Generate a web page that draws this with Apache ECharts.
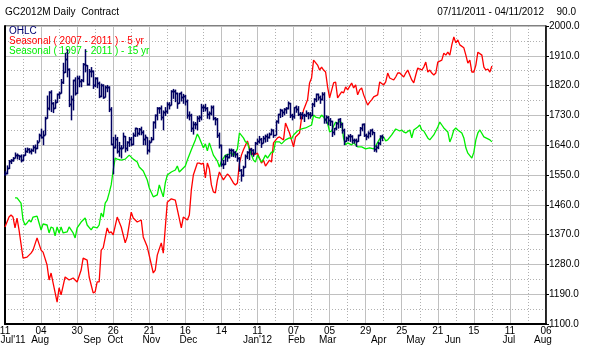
<!DOCTYPE html>
<html><head><meta charset="utf-8">
<script src="https://cdn.jsdelivr.net/npm/echarts@6/dist/echarts.min.js"></script>
<style>html,body{margin:0;padding:0;background:#fff}#c{width:595px;height:355px}</style>
</head><body><div id="c"></div>
<script>
// x axis: trading-day index (0 = 11 Jul 2011), ticks every 18 bars
const dayTickLabels = ["11","04","30","26","21","16","14","11","07","05","29","25","21","15","11","06"];
const monthNames = ["Jul'11","Aug","Sep","Oct","Nov","Dec","Jan'12","Feb","Mar","Apr","May","Jun","Jul","Aug"];
const monthIdx = [4, 17.5, 43.5, 55, 73, 91.5, 126, 145.5, 161, 186.5, 205, 223.5, 251.5, 268.5];

// OHLC of GC2012M, one value per bar (index 0..188)
const ohlcOpen = [
1552,1556,1571,1593,1596,1602,1611,1609,1607,1594,
1609,1622,1628,1622,1624,1636,1631,1651,1672,1666,
1671,1721,1751,1802,1766,1752,1771,1794,1798,1830,
1860,1899,1870,1765,1781,1836,1798,1843,1833,1836,
1884,1881,1825,1865,1864,1822,1842,1829,1788,1822,
1786,1815,1816,1749,1645,1636,1660,1622,1632,1632,
1667,1631,1650,1659,1643,1670,1691,1676,1690,1681,
1659,1664,1624,1651,1660,1711,1731,1752,1752,1724,
1741,1744,1765,1762,1804,1803,1798,1766,1797,1787,
1790,1773,1732,1732,1692,1703,1705,1722,1725,1755,
1754,1753,1733,1738,1754,1721,1720,1671,1641,1583,
1583,1606,1603,1626,1624,1619,1614,1602,1564,1550,
1574,1608,1620,1629,1625,1617,1647,1654,1658,1647,
1663,1668,1666,1675,1685,1672,1714,1734,1746,1740,
1748,1753,1766,1732,1728,1754,1748,1735,1733,1730,
1732,1738,1735,1731,1765,1780,1794,1786,1780,1796,
1720,1724,1717,1713,1680,1691,1707,1720,1705,1685,
1654,1662,1668,1668,1656,1657,1654,1670,1693,1704,
1670,1667,1677,1686,1679,1629,1636,1648,1669];
const ohlcHigh = [
1562,1579,1595,1598,1604,1618,1615,1610,1612,1612,
1632,1633,1631,1630,1640,1642,1655,1675,1690,1684,
1726,1790,1803,1806,1770,1778,1796,1802,1840,1889,
1919,1930,1872,1790,1838,1845,1850,1850,1840,1888,
1930,1882,1870,1876,1866,1845,1845,1832,1826,1824,
1820,1822,1818,1755,1665,1672,1665,1650,1640,1678,
1668,1652,1665,1665,1678,1693,1692,1692,1696,1685,
1672,1664,1655,1665,1712,1733,1755,1755,1760,1745,
1755,1770,1770,1806,1810,1808,1799,1798,1802,1795,
1792,1778,1742,1735,1712,1710,1728,1730,1765,1762,
1765,1755,1742,1760,1760,1725,1722,1678,1642,1596,
1610,1614,1630,1630,1628,1622,1617,1604,1568,1578,
1612,1622,1630,1632,1628,1650,1660,1668,1662,1668,
1672,1675,1678,1690,1688,1715,1735,1750,1748,1752,
1755,1772,1768,1735,1755,1760,1758,1740,1740,1735,
1745,1740,1740,1768,1782,1796,1796,1790,1800,1800,
1730,1728,1722,1714,1692,1710,1720,1722,1708,1690,
1666,1672,1674,1670,1660,1660,1672,1695,1705,1706,
1675,1682,1688,1690,1680,1640,1650,1670,1672];
const ohlcLow = [
1548,1552,1568,1583,1590,1600,1597,1595,1588,1592,
1608,1617,1615,1612,1620,1615,1628,1650,1660,1640,
1670,1720,1745,1740,1737,1750,1768,1780,1796,1825,
1858,1845,1755,1715,1745,1790,1795,1815,1815,1830,
1860,1820,1820,1845,1810,1815,1812,1782,1785,1780,
1784,1800,1740,1640,1552,1630,1615,1605,1600,1630,
1618,1622,1635,1638,1640,1665,1666,1670,1670,1640,
1640,1612,1618,1648,1655,1690,1715,1735,1715,1685,
1728,1735,1748,1760,1780,1770,1750,1765,1772,1765,
1760,1720,1715,1680,1672,1688,1685,1710,1715,1740,
1742,1720,1718,1730,1715,1700,1662,1630,1575,1568,
1580,1590,1600,1605,1604,1602,1590,1560,1530,1545,
1572,1598,1595,1610,1605,1615,1640,1645,1632,1645,
1648,1650,1660,1670,1662,1670,1705,1722,1725,1730,
1735,1748,1722,1715,1720,1738,1728,1718,1718,1710,
1725,1718,1720,1728,1755,1770,1775,1765,1775,1705,
1705,1700,1698,1665,1670,1685,1690,1692,1675,1640,
1650,1652,1650,1645,1645,1635,1650,1668,1682,1665,
1655,1660,1664,1670,1620,1618,1628,1640,1652];
const ohlcClose = [
1556,1571,1593,1596,1602,1611,1609,1607,1594,1609,
1622,1628,1622,1624,1636,1631,1651,1672,1666,1671,
1721,1751,1802,1766,1752,1771,1794,1798,1830,1860,
1899,1870,1765,1781,1836,1798,1843,1833,1836,1884,
1881,1825,1865,1864,1822,1842,1829,1788,1822,1786,
1815,1816,1749,1645,1636,1660,1622,1632,1632,1667,
1631,1650,1659,1643,1670,1691,1676,1690,1681,1659,
1664,1624,1651,1660,1711,1731,1752,1752,1724,1741,
1744,1765,1762,1804,1803,1798,1766,1797,1787,1790,
1773,1732,1732,1692,1703,1705,1722,1725,1755,1754,
1753,1733,1738,1754,1721,1720,1671,1641,1583,1583,
1606,1603,1626,1624,1619,1614,1602,1564,1550,1574,
1608,1620,1629,1625,1617,1647,1654,1658,1647,1663,
1668,1666,1675,1685,1672,1714,1734,1746,1740,1748,
1753,1766,1732,1728,1754,1748,1735,1733,1730,1732,
1738,1735,1731,1765,1780,1794,1786,1780,1796,1720,
1724,1717,1713,1680,1691,1707,1720,1705,1685,1654,
1662,1668,1668,1656,1657,1654,1670,1693,1704,1670,
1667,1677,1686,1679,1629,1636,1648,1669,1665];

// Seasonal ( 2007 - 2011 ) - 5 yr : [bar index, value]
const seasonal5yr = [[0,1393],[2,1423],[3,1429],[4,1423],[5,1390],[6,1420],[7,1384],[9,1299],[11,1302],[13,1314],[14,1323],[16,1360],[18,1323],[19,1317],[21,1278],[22,1233],[23,1254],[24,1224],[26,1166],[27,1209],[28,1188],[30,1242],[32,1233],[34,1239],[36,1227],[38,1263],[39,1299],[41,1293],[42,1242],[44,1194],[45,1197],[46,1227],[47,1227],[48,1323],[49,1330],[51,1390],[52,1375],[53,1378],[54,1369],[56,1423],[58,1393],[60,1345],[61,1363],[63,1438],[64,1420],[66,1408],[68,1414],[69,1363],[71,1333],[74,1254],[75,1263],[76,1308],[78,1345],[79,1314],[81,1468],[83,1478],[85,1474],[88,1390],[89,1423],[91,1414],[92,1429],[93,1505],[94,1550],[96,1586],[97,1586],[98,1583],[99,1586],[100,1541],[101,1586],[102,1568],[103,1520],[104,1499],[105,1496],[106,1535],[107,1559],[109,1535],[110,1544],[111,1553],[112,1547],[114,1526],[115,1520],[116,1526],[117,1586],[118,1610],[119,1626],[121,1653],[122,1632],[123,1619],[124,1610],[126,1616],[128,1586],[129,1595],[130,1577],[132,1595],[133,1589],[134,1647],[136,1662],[137,1665],[139,1656],[140,1707],[142,1677],[144,1635],[145,1665],[147,1677],[148,1722],[149,1746],[151,1777],[152,1828],[153,1843],[154,1897],[156,1882],[157,1867],[158,1876],[159,1867],[160,1861],[161,1816],[162,1783],[164,1828],[165,1831],[166,1783],[168,1801],[169,1798],[170,1816],[171,1807],[173,1828],[174,1813],[175,1822],[176,1792],[177,1807],[178,1813],[179,1792],[181,1761],[182,1770],[183,1777],[184,1786],[186,1792],[187,1831],[189,1822],[190,1831],[191,1858],[192,1843],[194,1837],[195,1846],[196,1858],[197,1858],[199,1846],[200,1858],[201,1867],[203,1837],[204,1828],[205,1852],[206,1873],[208,1867],[209,1876],[210,1891],[211,1861],[212,1867],[213,1858],[214,1852],[215,1858],[216,1891],[218,1897],[219,1918],[220,1912],[221,1921],[222,1912],[223,1943],[224,1967],[225,1949],[226,1958],[227,1943],[229,1934],[230,1912],[231,1888],[232,1897],[233,1861],[234,1861],[235,1882],[236,1921],[238,1912],[239,1876],[240,1867],[241,1870],[242,1861],[243,1879]];

// Seasonal ( 1997 - 2011 ) - 15 yr : [bar index, value]
const seasonal15yr = [[5,1481],[6,1481],[8,1465],[9,1414],[10,1399],[11,1405],[12,1414],[13,1408],[14,1423],[16,1426],[17,1405],[18,1384],[19,1402],[21,1399],[22,1375],[23,1393],[24,1390],[25,1366],[26,1393],[27,1375],[28,1393],[29,1375],[31,1378],[32,1393],[34,1375],[35,1360],[36,1390],[38,1408],[40,1420],[41,1399],[43,1384],[44,1393],[46,1390],[47,1399],[48,1435],[49,1423],[50,1465],[51,1474],[52,1496],[53,1520],[54,1565],[55,1601],[56,1598],[58,1595],[60,1598],[62,1610],[64,1598],[66,1589],[67,1574],[69,1562],[71,1535],[72,1511],[74,1484],[76,1490],[77,1520],[79,1484],[80,1526],[81,1550],[83,1559],[85,1565],[86,1577],[87,1559],[89,1571],[90,1577],[91,1595],[93,1626],[95,1656],[96,1674],[97,1662],[99,1632],[100,1644],[101,1623],[102,1647],[104,1610],[106,1592],[107,1574],[108,1592],[110,1610],[112,1613],[113,1619],[114,1607],[116,1629],[117,1677],[119,1662],[120,1650],[121,1647],[122,1626],[124,1595],[125,1589],[126,1610],[128,1589],[129,1598],[130,1610],[131,1601],[133,1619],[134,1619],[135,1650],[137,1650],[138,1644],[140,1656],[142,1662],[143,1659],[144,1671],[145,1677],[146,1683],[148,1689],[150,1692],[151,1695],[153,1701],[154,1731],[155,1725],[157,1722],[158,1731],[159,1725],[161,1707],[162,1680],[163,1683],[164,1698],[165,1710],[166,1704],[167,1713],[168,1707],[169,1659],[170,1641],[171,1647],[173,1641],[174,1647],[176,1635],[178,1635],[180,1629],[182,1632],[184,1629],[185,1638],[187,1659],[189,1665],[190,1653],[191,1656],[193,1671],[194,1680],[195,1689],[197,1683],[198,1686],[199,1680],[200,1677],[202,1686],[203,1662],[204,1686],[206,1695],[207,1701],[208,1686],[209,1683],[211,1662],[212,1656],[214,1671],[216,1695],[217,1710],[218,1701],[219,1692],[221,1680],[222,1650],[223,1665],[224,1686],[225,1692],[226,1686],[228,1677],[229,1662],[230,1632],[231,1616],[233,1601],[234,1619],[235,1656],[236,1677],[237,1686],[239,1665],[240,1662],[242,1656],[243,1650]];

const FONT = "'Liberation Sans', Arial, sans-serif";
const ohlcData = ohlcClose.map((c, i) => [i, ohlcOpen[i], ohlcHigh[i], ohlcLow[i], c]);

const chart = echarts.init(document.getElementById('c'), null, {renderer: 'canvas'});
chart.setOption({
  animation: false,
  backgroundColor: '#fff',
  textStyle: {fontFamily: FONT},
  title: [
    {text: 'GC2012M Daily  Contract', left: 5, top: 7, padding: 0,
     textStyle: {fontSize: 10, fontWeight: 'normal', color: '#000', fontFamily: FONT}},
    {text: '07/11/2011 - 04/11/2012', right: 51, top: 7, padding: 0,
     textStyle: {fontSize: 10, fontWeight: 'normal', color: '#000', fontFamily: FONT}},
    {text: '90.0', right: 19, top: 7, padding: 0,
     textStyle: {fontSize: 10, fontWeight: 'normal', color: '#000', fontFamily: FONT}}
  ],
  legend: {
    orient: 'vertical', left: 4, top: 26, padding: 0, itemGap: 0,
    itemWidth: 0, itemHeight: 0, icon: 'rect', selectedMode: false,
    textStyle: {fontSize: 10, lineHeight: 9, fontFamily: FONT},
    data: [
      {name: 'OHLC', textStyle: {color: '#000070'}},
      {name: 'Seasonal ( 2007 - 2011 ) - 5 yr', textStyle: {color: '#ff0000'}},
      {name: 'Seasonal ( 1997 - 2011 ) - 15 yr', textStyle: {color: '#00ee00'}}
    ]
  },
  grid: {left: 5, right: 49, top: 26, bottom: 31, show: true, borderColor: '#000', borderWidth: 1,
         containLabel: false, outerBoundsMode: 'none'},
  xAxis: [
    {type: 'value', min: 0, max: 270, interval: 18, position: 'bottom',
     axisLine: {show: true, onZero: false, lineStyle: {color: '#000', width: 2}},
     axisTick: {show: false},
     axisLabel: {margin: 2, fontSize: 10, color: '#000', fontFamily: FONT,
       showMinLabel: true, showMaxLabel: true, hideOverlap: false,
       formatter: v => dayTickLabels[Math.round(v / 18)] || ''},
     splitLine: {show: true, lineStyle: {color: '#c0c0c0', width: 1}},
     minorTick: {show: false, splitNumber: 2},
     minorSplitLine: {show: true, lineStyle: {color: '#b0b0b0', width: 1, type: [1, 2]}}},
    {type: 'value', min: 0, max: 270, position: 'bottom',
     axisLine: {show: false}, axisTick: {show: false}, splitLine: {show: false},
     axisLabel: {margin: 11, fontSize: 10, color: '#000', fontFamily: FONT, hideOverlap: false,
       customValues: monthIdx,
       formatter: v => { const k = monthIdx.indexOf(v); return k >= 0 ? monthNames[k] : ''; }}}
  ],
  yAxis: [
    {type: 'value', position: 'right', min: 1100, max: 2000, interval: 90,
     axisLine: {show: true, onZero: false, lineStyle: {color: '#000', width: 1.5}},
     axisTick: {show: true, length: 3, lineStyle: {color: '#000'}},
     axisLabel: {margin: 3, fontSize: 10, color: '#000', fontFamily: FONT,
       showMinLabel: true, showMaxLabel: true, formatter: v => v.toFixed(1)},
     splitLine: {show: true, lineStyle: {color: '#c0c0c0', width: 1}},
     minorTick: {show: false, splitNumber: 2},
     minorSplitLine: {show: true, lineStyle: {color: '#b0b0b0', width: 1, type: [1, 2]}}},
    {type: 'value', position: 'left', min: 1100, max: 2000,
     axisLine: {show: true, onZero: false, lineStyle: {color: '#000', width: 2}},
     axisTick: {show: false}, axisLabel: {show: false}, splitLine: {show: false}}
  ],
  series: [
    {name: 'Seasonal ( 2007 - 2011 ) - 5 yr', type: 'line', xAxisIndex: 0, yAxisIndex: 0,
     data: seasonal5yr, showSymbol: false, symbol: 'none', color: '#ff0000',
     lineStyle: {color: '#ff0000', width: 1.3}, z: 3},
    {name: 'Seasonal ( 1997 - 2011 ) - 15 yr', type: 'line', xAxisIndex: 0, yAxisIndex: 0,
     data: seasonal15yr, showSymbol: false, symbol: 'none', color: '#00ee00',
     lineStyle: {color: '#00ee00', width: 1.3}, z: 3},
    {name: 'OHLC', type: 'custom', xAxisIndex: 0, yAxisIndex: 0, z: 4,
     color: '#000060',
     data: ohlcData,
     encode: {x: 0, y: [1, 2, 3, 4]},
     renderItem: function (params, api) {
       const i = api.value(0);
       const o = api.coord([i, api.value(1)]);
       const h = api.coord([i, api.value(2)]);
       const l = api.coord([i, api.value(3)]);
       const c = api.coord([i, api.value(4)]);
       const px = Math.round(o[0]) + 0.5;
       const st = {stroke: '#000060', lineWidth: 1.5};
       return {type: 'group', children: [
         {type: 'line', shape: {x1: px, y1: h[1], x2: px, y2: l[1]}, style: st},
         {type: 'line', shape: {x1: px - 1.5, y1: Math.round(o[1]) + 0.5, x2: px, y2: Math.round(o[1]) + 0.5}, style: st},
         {type: 'line', shape: {x1: px, y1: Math.round(c[1]) + 0.5, x2: px + 1.5, y2: Math.round(c[1]) + 0.5}, style: st}
       ]};
     }}
  ]
});
</script>
</body></html>
